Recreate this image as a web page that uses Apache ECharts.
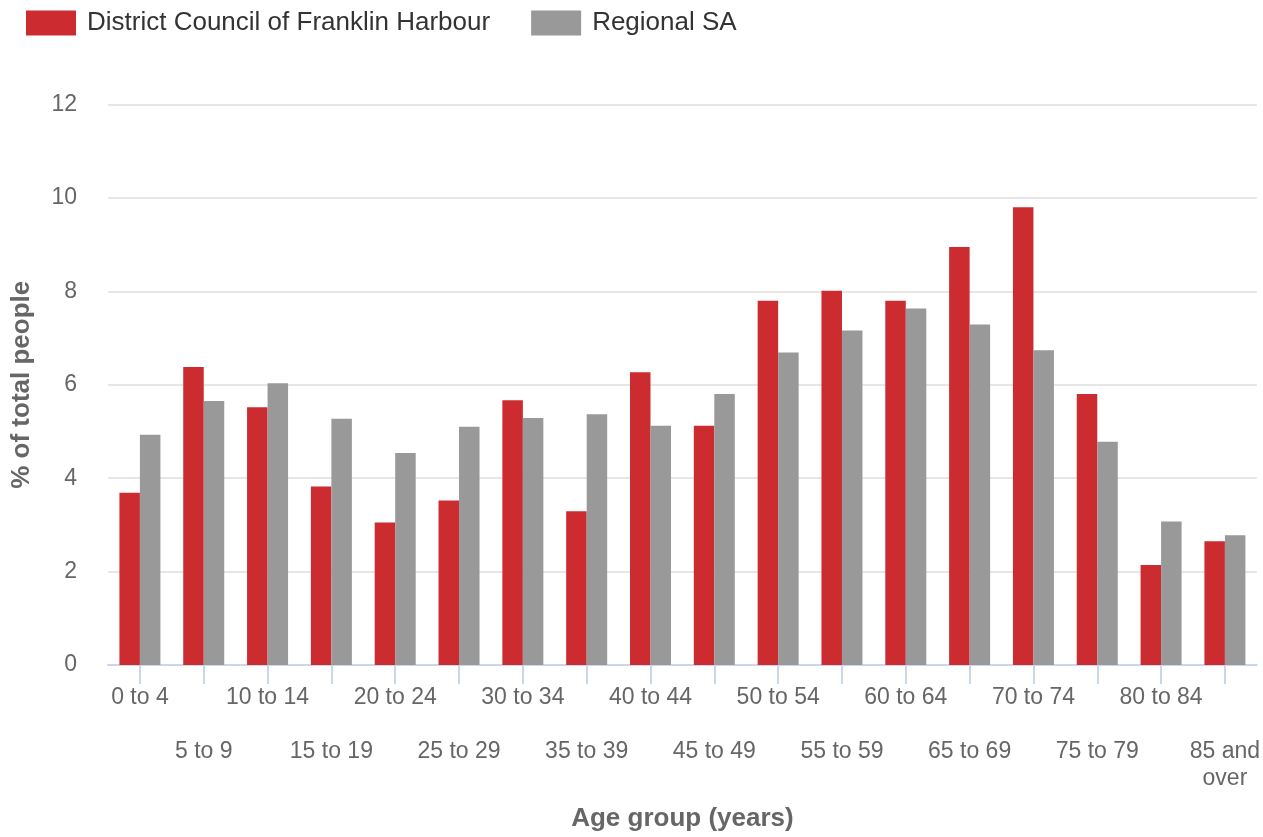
<!DOCTYPE html>
<html>
<head>
<meta charset="utf-8">
<script src="https://cdn.jsdelivr.net/npm/echarts@6/dist/echarts.min.js"></script>
<style>
  html, body { margin: 0; padding: 0; background: #fff; }
  #chart { width: 1263px; height: 837px; }
</style>
</head>
<body>
<div id="chart"></div>
<script>
const ageGroups = [
  "0 to 4", "5 to 9", "10 to 14", "15 to 19", "20 to 24", "25 to 29",
  "30 to 34", "35 to 39", "40 to 44", "45 to 49", "50 to 54", "55 to 59",
  "60 to 64", "65 to 69", "70 to 74", "75 to 79", "80 to 84", "85 and\nover"
];
const franklinHarbour = [3.69, 6.38, 5.52, 3.82, 3.05, 3.52, 5.67, 3.29, 6.27, 5.12, 7.80, 8.01, 7.80, 8.95, 9.80, 5.80, 2.14, 2.65];
const regionalSA = [4.93, 5.65, 6.03, 5.27, 4.54, 5.10, 5.29, 5.37, 5.12, 5.80, 6.69, 7.16, 7.63, 7.29, 6.74, 4.78, 3.07, 2.78];

const font = "'Liberation Sans', Arial, sans-serif";
const chart = echarts.init(document.getElementById("chart"));

const option = {
  animation: false,
  textStyle: { fontFamily: font },
  legend: {
    top: 5,
    left: 21,
    itemWidth: 50,
    itemHeight: 25,
    itemGap: 41,
    icon: "rect",
    textStyle: {
      fontFamily: font,
      fontSize: 26,
      color: "#333",
      padding: [0, 0, 0, 6],
    },
  },
  grid: {
    left: 108,
    right: 3,
    top: 104.5,
    bottom: 168.5,
    containLabel: false,
  },
  xAxis: {
    type: "category",
    data: ageGroups,
    name: "Age group (years)",
    nameLocation: "middle",
    nameGap: 141,
    nameTextStyle: {
      fontFamily: font,
      fontSize: 26,
      fontWeight: "bold",
      color: "#666",
    },
    axisLine: {
      show: true,
      lineStyle: { color: "#ccd6eb", width: 2 },
    },
    axisTick: {
      show: true,
      alignWithLabel: true,
      length: 19,
      lineStyle: { color: "#ccd6eb", width: 2 },
    },
    axisLabel: {
      interval: 0,
      margin: 19,
      fontFamily: font,
      fontSize: 23,
      lineHeight: 27,
      color: "#666",
      formatter: (value, index) => (index % 2 === 1 ? "\n\n" + value : value),
    },
  },
  yAxis: {
    type: "value",
    min: 0,
    max: 12,
    interval: 2,
    name: "% of total people",
    nameLocation: "middle",
    nameGap: 73,
    nameTextStyle: {
      fontFamily: font,
      fontSize: 26,
      fontWeight: "bold",
      color: "#666",
    },
    axisLine: { show: false },
    axisTick: { show: false },
    axisLabel: {
      margin: 31,
      fontFamily: font,
      fontSize: 23,
      color: "#666",
    },
    splitLine: {
      lineStyle: { color: "#e6e6e6", width: 2 },
    },
  },
  series: [
    {
      name: "District Council of Franklin Harbour",
      type: "bar",
      data: franklinHarbour,
      barWidth: 20.5,
      barGap: "0%",
      itemStyle: { color: "#cc2b30" },
    },
    {
      name: "Regional SA",
      type: "bar",
      data: regionalSA,
      barWidth: 20.5,
      barGap: "0%",
      itemStyle: { color: "#999999" },
    },
  ],
};

chart.setOption(option);
</script>
</body>
</html>
